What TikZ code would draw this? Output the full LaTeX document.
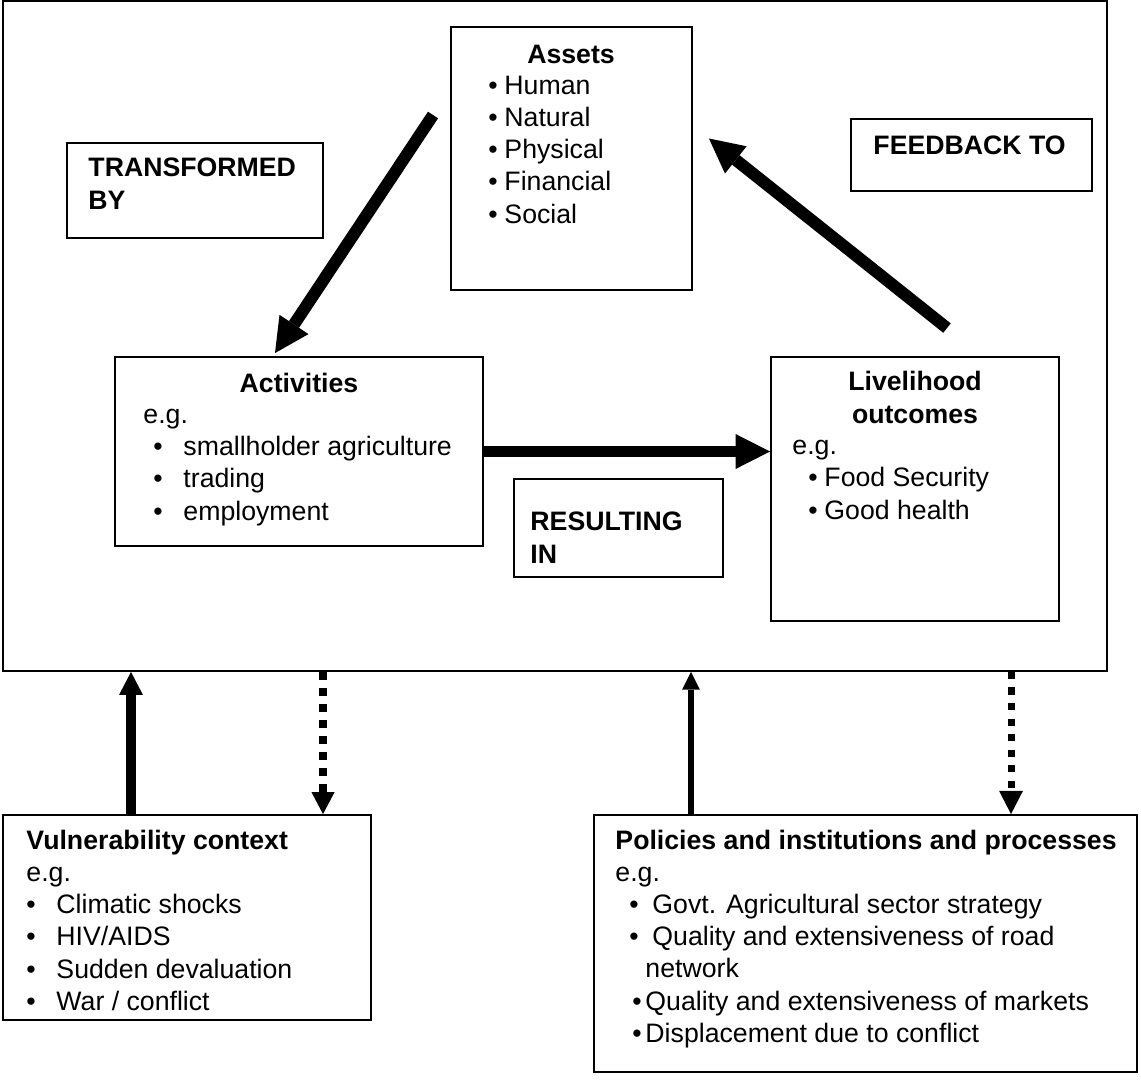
\documentclass[tikz,border=0pt]{standalone}
\usepackage{fontspec}
\setmainfont{Liberation Sans}
\usetikzlibrary{arrows.meta,fit}
\newlength{\pxu}
\setlength{\pxu}{0.431pt}
\newcommand{\bul}[2]{\hspace*{#1\pxu}\makebox[#2\pxu][l]{•}}

\begin{document}
\begin{tikzpicture}[x=0.431pt,y=-0.431pt,
    font=\fontsize{11.5}{13.8}\selectfont,
    box/.style={draw,line width=0.8pt,inner sep=0pt},
    txt/.style={inner sep=0pt,anchor=base west,align=left},
    head/.style={inner sep=0pt,anchor=base,align=center,font=\fontsize{11.5}{13.8}\selectfont\bfseries},
    fat/.style={line width=5.2pt,-{Triangle[length=14.8pt,width=15pt,line width=0pt]}},
    upfat/.style={line width=3.9pt,-{Triangle[length=9.9pt,width=10.3pt,line width=0pt]}},
    upthin/.style={line width=2.2pt,-{Triangle[length=7.6pt,width=7.6pt,line width=0pt]}},
    dotfat/.style={line width=3.5pt,dash pattern=on 3.3pt off 3.6pt,-{Triangle[length=9.5pt,width=10pt,line width=0pt]}},
    dotthin/.style={line width=3pt,dash pattern=on 3.1pt off 3.6pt,-{Triangle[length=10pt,width=10.3pt,line width=0pt]}}]
    \useasboundingbox (0,0) rectangle (1141,1081);

    \node[box,fit={(3,1) (1107,671)}] (frame) {};
    \node[box,fit={(451,27) (692,290)}] (assets) {};
    \node[box,fit={(67,143) (323,238)}] (transf) {};
    \node[box,fit={(851,119) (1092,191)}] (feed) {};
    \node[box,fit={(115,357) (483,546)}] (activ) {};
    \node[box,fit={(771,357) (1059,621)}] (livel) {};
    \node[box,fit={(514,479) (723,577)}] (result) {};
    \node[box,fit={(3,815) (371,1020)}] (vuln) {};
    \node[box,fit={(594,815) (1137,1072)}] (policy) {};

    % multi-line texts sit on the baseline of their last line
    \node[head] (assetsT) at (571,63) {Assets};
    \node[txt] (assetsL) at (488,223) {\bul{0}{16}Human\\\bul{0}{16}Natural\\
      \bul{0}{16}Physical\\\bul{0}{16}Financial\\\bul{0}{16}Social};
    \node[txt,font=\fontsize{11.5}{13.8}\selectfont\bfseries] (transfT) at (88,209) {TRANSFORMED\\BY};
    \node[txt,font=\fontsize{11.5}{13.8}\selectfont\bfseries] (feedT) at (873,154) {FEEDBACK TO};
    \node[txt,font=\fontsize{11.5}{13.8}\selectfont\bfseries] (resultT) at (530,563) {RESULTING\\IN};

    \node[head] (activT) at (299,392) {Activities};
    \node[txt] (activL) at (143,520) {e.g.\\\bul{10}{30}smallholder agriculture\\
      \bul{10}{30}trading\\\bul{10}{30}employment};
    \node[head] (livelT) at (915,423) {Livelihood\\outcomes};
    \node[txt] (livelL) at (792,519) {e.g.\\\bul{16}{16}Food Security\\\bul{16}{16}Good health};

    \node[txt] (vulnT) at (26,1010) {\textbf{Vulnerability context}\\e.g.\\
      \bul{0}{30}Climatic shocks\\\bul{0}{30}HIV/AIDS\\
      \bul{0}{30}Sudden devaluation\\\bul{0}{30}War / conflict};
    \node[txt] (policyT) at (615,1042) {\textbf{Policies and institutions and processes}\\e.g.\\
      \bul{14}{23}Govt. Agricultural sector strategy\\
      \bul{14}{23}Quality and extensiveness of road\\
      \hspace*{30\pxu}network\\
      \bul{17}{13}Quality and extensiveness of markets\\
      \bul{17}{13}Displacement due to conflict};

    \coordinate (tA) at (433,115);
    \coordinate (vA) at (131,0);
    \coordinate (vB) at (323,0);
    \coordinate (pA) at (691,0);
    \coordinate (pB) at (1011,0);

    \draw[fat] (tA) -- ([shift={(-24,-3)}]activ.north);
    \draw[fat] ([shift={(32,-28)}]livel.north) -- ([shift={(16,-20)}]assets.east);
    \draw[fat,line width=4.8pt] (activ.east) -- (activ.east -| livel.west);

    \draw[upfat] (vuln.north -| vA) -- (frame.south -| vA);
    \draw[dotfat] (frame.south -| vB) -- (vuln.north -| vB);
    \draw[upthin] (policy.north -| pA) -- (frame.south -| pA);
    \draw[dotthin] (frame.south -| pB) -- (policy.north -| pB);
\end{tikzpicture}
\end{document}
